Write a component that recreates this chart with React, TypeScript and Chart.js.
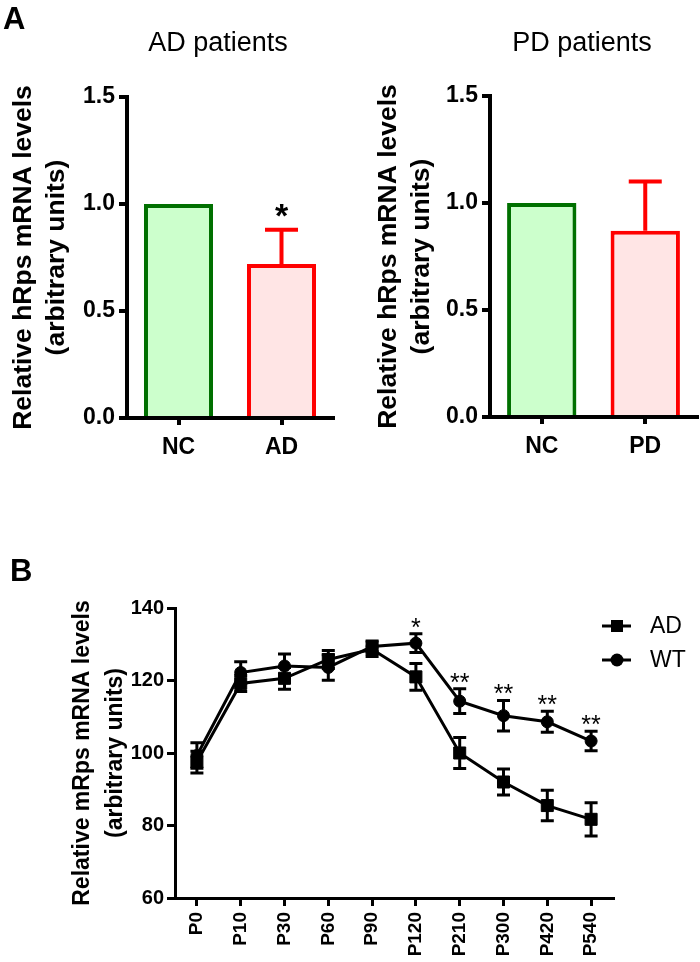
import { useEffect, useRef } from "react";
import Chart from "chart.js/auto";

const FONT = "'Liberation Sans', Arial, sans-serif";

// Panel A – human patients, relative hRps mRNA (normalised to NC = 1)
const groupsAD = ["NC", "AD"];
const valuesAD = [1.0, 0.72];
const errorsAD = [0, 0.16];
const starsAD = ["", "*"];

const groupsPD = ["NC", "PD"];
const valuesPD = [1.0, 0.87];
const errorsPD = [0, 0.23];
const starsPD = ["", ""];

const barFill = ["#ccffcc", "#ffe5e5"];
const barEdge = ["#007000", "#ff0000"];

// Panel B – mouse time course, relative mRps mRNA
const ages = ["P0", "P10", "P30", "P60", "P90", "P120", "P210", "P300", "P420", "P540"];
const adMean = [97.5, 119.2, 120.6, 125.8, 128.6, 121.0, 100.0, 92.0, 85.5, 81.7];
const adErr = [3.0, 2.2, 3.0, 2.5, 2.0, 3.7, 4.3, 3.6, 4.2, 4.6];
const wtMean = [99.3, 122.2, 124.0, 123.6, 129.4, 130.3, 114.3, 110.3, 108.6, 103.3];
const wtErr = [3.5, 3.0, 3.3, 3.5, 1.5, 2.6, 3.4, 4.2, 2.9, 2.7];
const ageStars = ["", "", "", "", "", "*", "**", "**", "**", "**"];

const axisTitleA = ["Relative hRps mRNA levels", "(arbitrary units)"];
const axisTitleB = ["Relative mRps mRNA levels", "(arbitrary units)"];

type BarProps = {
  labels: string[];
  values: number[];
  errors: number[];
  stars: string[];
  yWidth: number;
  titlePad: number;
  padRight: number;
  padTop: number;
  xHeight: number;
};

const BarPanel = (p: BarProps) => {
  const ref = useRef<HTMLCanvasElement>(null);

  useEffect(() => {
    if (!ref.current) return;

    const errorBars = {
      id: "errorBars",
      afterDatasetsDraw(chart: any) {
        const { ctx, scales } = chart;
        const x = scales.x;
        const y = scales.y;
        ctx.save();
        ctx.lineWidth = 4;
        p.values.forEach((v, i) => {
          const px = x.getPixelForValue(i);
          if (p.errors[i]) {
            const top = y.getPixelForValue(v + p.errors[i]);
            ctx.strokeStyle = barEdge[i];
            ctx.beginPath();
            ctx.moveTo(px, y.getPixelForValue(v));
            ctx.lineTo(px, top);
            ctx.moveTo(px - 16.5, top);
            ctx.lineTo(px + 16.5, top);
            ctx.stroke();
          }
          if (p.stars[i]) {
            const top = y.getPixelForValue(v + p.errors[i]);
            ctx.fillStyle = "#000";
            ctx.font = `bold 34px ${FONT}`;
            ctx.textAlign = "center";
            ctx.textBaseline = "alphabetic";
            ctx.fillText(p.stars[i], px, top - 3);
          }
        });
        ctx.restore();
      },
    };

    const chart = new Chart(ref.current, {
      type: "bar",
      data: {
        labels: p.labels,
        datasets: [
          {
            data: p.values,
            backgroundColor: barFill,
            borderColor: barEdge,
            borderWidth: 4,
            barPercentage: 0.67,
            categoryPercentage: 1,
          },
        ],
      },
      options: {
        animation: false,
        responsive: true,
        maintainAspectRatio: false,
        layout: { padding: { top: p.padTop, right: p.padRight, left: 0, bottom: 0 } },
        plugins: { legend: { display: false }, tooltip: { enabled: false } },
        scales: {
          x: {
            offset: true,
            ticks: {
              color: "#000",
              font: { family: FONT, size: 23, weight: "bold" },
              padding: 9,
              maxRotation: 0,
            },
            grid: { offset: false, drawOnChartArea: false, tickLength: 7, color: "#000", lineWidth: 4 },
            border: { display: true, color: "#000", width: 4 },
            afterFit: (s: any) => {
              s.height = p.xHeight;
            },
          },
          y: {
            min: 0,
            max: 1.5,
            ticks: {
              stepSize: 0.5,
              color: "#000",
              font: { family: FONT, size: 23, weight: "bold" },
              padding: 4,
              callback: (v: any) => Number(v).toFixed(1),
            },
            grid: { drawOnChartArea: false, tickLength: 8, color: "#000", lineWidth: 4 },
            border: { display: true, color: "#000", width: 4 },
            title: {
              display: true,
              text: axisTitleA,
              color: "#000",
              font: { family: FONT, size: 26.5, weight: "bold", lineHeight: 1.26 },
              padding: { top: p.titlePad, bottom: 0 },
            },
            afterFit: (s: any) => {
              s.width = p.yWidth;
            },
          },
        },
      },
      plugins: [errorBars],
    });

    return () => {
      chart.destroy();
    };
  }, []);

  return <canvas ref={ref} />;
};

const LinePanel = () => {
  const ref = useRef<HTMLCanvasElement>(null);

  useEffect(() => {
    if (!ref.current) return;

    const errs = [adErr, wtErr];

    const extras = {
      id: "extras",
      beforeDatasetsDraw(chart: any) {
        const { ctx, scales } = chart;
        const x = scales.x;
        const y = scales.y;
        ctx.save();
        ctx.strokeStyle = "#000";
        ctx.lineWidth = 3;
        chart.data.datasets.forEach((ds: any, d: number) => {
          ds.data.forEach((v: number, i: number) => {
            const px = x.getPixelForValue(i);
            const hi = y.getPixelForValue(v + errs[d][i]);
            const lo = y.getPixelForValue(v - errs[d][i]);
            ctx.beginPath();
            ctx.moveTo(px, hi);
            ctx.lineTo(px, lo);
            ctx.moveTo(px - 6.5, hi);
            ctx.lineTo(px + 6.5, hi);
            ctx.moveTo(px - 6.5, lo);
            ctx.lineTo(px + 6.5, lo);
            ctx.stroke();
          });
        });
        ctx.restore();
      },
      afterDatasetsDraw(chart: any) {
        const { ctx, scales } = chart;
        const x = scales.x;
        const y = scales.y;
        ctx.save();
        ctx.fillStyle = "#000";
        ctx.font = `25px ${FONT}`;
        ctx.textAlign = "center";
        ctx.textBaseline = "alphabetic";
        ageStars.forEach((s, i) => {
          if (!s) return;
          const top = y.getPixelForValue(wtMean[i] + wtErr[i]);
          ctx.fillText(s, x.getPixelForValue(i), top + 2);
        });

        // legend: line with marker, then label
        const rows = [
          { label: "AD", style: "rect", y: 146 },
          { label: "WT", style: "circle", y: 180 },
        ];
        ctx.strokeStyle = "#000";
        ctx.lineWidth = 3;
        rows.forEach((r) => {
          ctx.beginPath();
          ctx.moveTo(602, r.y);
          ctx.lineTo(631, r.y);
          ctx.stroke();
          ctx.beginPath();
          if (r.style === "rect") {
            ctx.rect(611, r.y - 6, 12, 12);
          } else {
            ctx.arc(617, r.y, 6.5, 0, Math.PI * 2);
          }
          ctx.fill();
          ctx.font = `23px ${FONT}`;
          ctx.textAlign = "left";
          ctx.textBaseline = "middle";
          ctx.fillText(r.label, 650, r.y + 1);
        });
        ctx.restore();
      },
    };

    const chart = new Chart(ref.current, {
      type: "line",
      data: {
        labels: ages,
        datasets: [
          {
            label: "AD",
            data: adMean,
            borderColor: "#000",
            backgroundColor: "#000",
            borderWidth: 3,
            pointStyle: "rect",
            pointRadius: 8.5,
            pointBorderWidth: 1,
            tension: 0,
          },
          {
            label: "WT",
            data: wtMean,
            borderColor: "#000",
            backgroundColor: "#000",
            borderWidth: 3,
            pointStyle: "circle",
            pointRadius: 6,
            pointBorderWidth: 1,
            tension: 0,
          },
        ],
      },
      options: {
        animation: false,
        responsive: true,
        maintainAspectRatio: false,
        layout: { padding: { top: 128, right: 87, left: 0, bottom: 0 } },
        plugins: { legend: { display: false }, tooltip: { enabled: false } },
        scales: {
          x: {
            offset: true,
            ticks: {
              color: "#000",
              font: { family: FONT, size: 19, weight: "bold" },
              padding: 6,
              minRotation: 90,
              maxRotation: 90,
              autoSkip: false,
            },
            grid: { offset: false, drawOnChartArea: false, tickLength: 8, color: "#000", lineWidth: 3 },
            border: { display: true, color: "#000", width: 3 },
            afterFit: (s: any) => {
              s.height = 64;
            },
          },
          y: {
            min: 60,
            max: 140,
            ticks: {
              stepSize: 20,
              color: "#000",
              font: { family: FONT, size: 20, weight: "bold" },
              padding: 3,
            },
            grid: { drawOnChartArea: false, tickLength: 8, color: "#000", lineWidth: 3 },
            border: { display: true, color: "#000", width: 3 },
            title: {
              display: true,
              text: axisTitleB,
              color: "#000",
              font: { family: FONT, size: 23, weight: "bold", lineHeight: 1.43 },
              padding: { top: 66.5, bottom: 0 },
            },
            afterFit: (s: any) => {
              s.width = 175;
            },
          },
        },
      },
      plugins: [extras],
    });

    return () => {
      chart.destroy();
    };
  }, []);

  return <canvas ref={ref} />;
};

const abs = (left: number, top: number, width: number, height: number) => ({
  position: "absolute" as const,
  left,
  top,
  width,
  height,
});

const App = () => {
  return (
    <div
      style={{
        position: "absolute",
        left: 0,
        top: 0,
        width: 700,
        height: 962,
        background: "#fff",
        fontFamily: FONT,
        color: "#000",
      }}
    >
      <div style={abs(0, 0, 350, 480)}>
        <BarPanel
          labels={groupsAD}
          values={valuesAD}
          errors={errorsAD}
          stars={starsAD}
          yWidth={127}
          titlePad={7}
          padRight={17}
          padTop={97}
          xHeight={62}
        />
      </div>
      <div style={abs(350, 0, 350, 480)}>
        <BarPanel
          labels={groupsPD}
          values={valuesPD}
          errors={errorsPD}
          stars={starsPD}
          yWidth={140}
          titlePad={22}
          padRight={3}
          padTop={96}
          xHeight={63}
        />
      </div>
      <div style={abs(0, 480, 700, 482)}>
        <LinePanel />
      </div>
      <div style={{ position: "absolute", left: 3, top: 3, fontSize: 31, fontWeight: "bold", lineHeight: "31px" }}>A</div>
      <div style={{ position: "absolute", left: 10, top: 555, fontSize: 31, fontWeight: "bold", lineHeight: "31px" }}>B</div>
      <div style={{ position: "absolute", left: 0, width: 436, top: 27, textAlign: "center", fontSize: 27, lineHeight: "30px" }}>
        AD patients
      </div>
      <div style={{ position: "absolute", left: 432, width: 300, top: 27, textAlign: "center", fontSize: 27, lineHeight: "30px" }}>
        PD patients
      </div>
    </div>
  );
};

export default App;
